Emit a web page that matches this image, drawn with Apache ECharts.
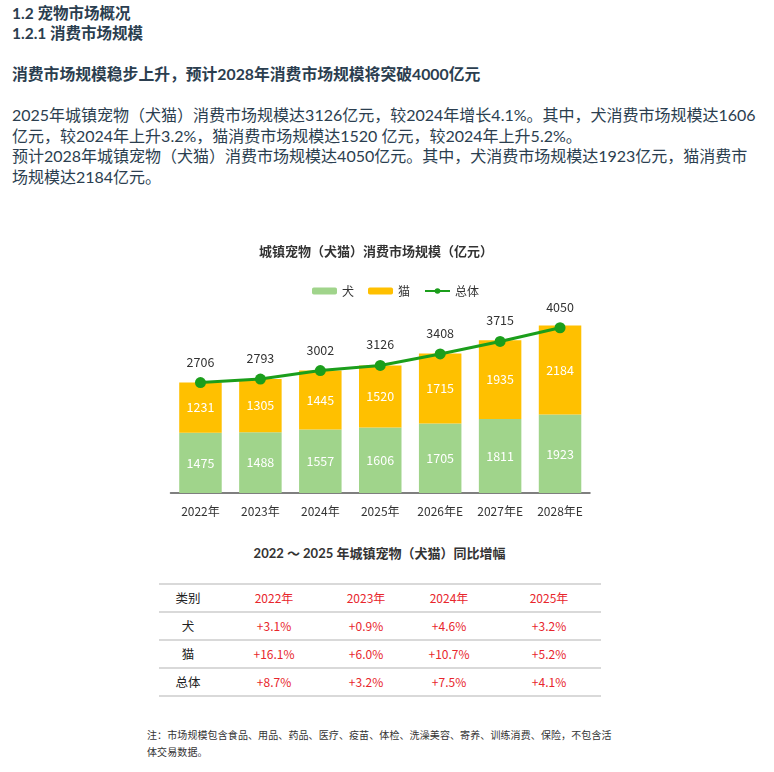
<!DOCTYPE html>
<html>
<head>
<meta charset="utf-8">
<script src="https://cdn.jsdelivr.net/npm/echarts/dist/echarts.min.js"></script>
<style>
    body {
        margin: 0;
        width: 774px;
        height: 772px;
        position: relative;
        overflow: hidden;
        background: #fff;
        font-family: Lato, 'Noto Sans CJK SC', sans-serif;
    }
    .txt {
        position: absolute;
        left: 12px;
        white-space: nowrap;
        color: #2b3e4f;
    }
    .head { font-size: 15.5px; line-height: 20px; font-weight: bold; }
    .lead { font-size: 15.8px; line-height: 20px; font-weight: bold; top: 64px; }
    .para { font-size: 16px; line-height: 20.5px; top: 105px; }
    #container { position: absolute; left: 0; top: 230px; width: 774px; height: 300px; }
    .tbl-title {
        position: absolute; left: 0; width: 759px; top: 543px;
        text-align: center; font-size: 13px; line-height: 20px; font-weight: bold; color: #333;
    }
    #growthTable { position: absolute; left: 159px; top: 584px; width: 442px; height: 112px; }
    .rule { position: absolute; left: 0; width: 442px; height: 2px; background: #d9d9d9; }
    .cell {
        position: absolute; height: 28px; line-height: 28px; text-align: center;
        font-family: 'Noto Sans CJK SC', sans-serif; font-size: 12px;
    }
    .note {
        position: absolute; left: 147px; top: 727px; font-size: 10px; line-height: 16.5px;
        letter-spacing: 0.1px; color: #333; white-space: nowrap;
        font-family: 'Noto Sans CJK SC', sans-serif;
    }
</style>
</head>
<body>
<div class="txt head" style="top:3px">1.2 宠物市场概况</div>
<div class="txt head" style="top:23px">1.2.1 消费市场规模</div>
<div class="txt lead">消费市场规模稳步上升，预计2028年消费市场规模将突破4000亿元</div>
<div class="txt para">2025年城镇宠物（犬猫）消费市场规模达3126亿元，较2024年增长4.1%。其中，犬消费市场规模达1606<br>亿元，较2024年上升3.2%，猫消费市场规模达1520 亿元，较2024年上升5.2%。<br>预计2028年城镇宠物（犬猫）消费市场规模达4050亿元。其中，犬消费市场规模达1923亿元，猫消费市<br>场规模达2184亿元。</div>

<div id="container"></div>

<div class="tbl-title">2022 ～ 2025 年城镇宠物（犬猫）同比增幅</div>
<div id="growthTable"></div>

<div class="note">注：市场规模包含食品、用品、药品、医疗、疫苗、体检、洗澡美容、寄养、训练消费、保险，不包含活<br>体交易数据。</div>

<script>
    // 城镇宠物（犬猫）消费市场规模（亿元）
    var years = ['2022年', '2023年', '2024年', '2025年', '2026年E', '2027年E', '2028年E'];
    var dogValues = [1475, 1488, 1557, 1606, 1705, 1811, 1923];
    var catValues = [1231, 1305, 1445, 1520, 1715, 1935, 2184];
    var totalValues = [2706, 2793, 3002, 3126, 3408, 3715, 4050];

    // 同比增幅表
    var growthYears = ['2022年', '2023年', '2024年', '2025年'];
    var growthNames = ['犬', '猫', '总体'];
    var dogGrowth = ['+3.1%', '+0.9%', '+4.6%', '+3.2%'];
    var catGrowth = ['+16.1%', '+6.0%', '+10.7%', '+5.2%'];
    var totalGrowth = ['+8.7%', '+3.2%', '+7.5%', '+4.1%'];

    var labelFont = "'Noto Sans CJK SC', sans-serif";

    var chart = echarts.init(document.getElementById('container'));
    chart.setOption({
        animation: false,
        textStyle: {fontFamily: labelFont},
        title: {
            text: '城镇宠物（犬猫）消费市场规模（亿元）',
            left: 371,
            top: 10,
            textAlign: 'center',
            textStyle: {fontSize: 13, fontWeight: 'bold', color: '#333', fontFamily: labelFont}
        },
        legend: {
            data: ['犬', '猫', '总体'],
            left: 307,
            top: 50,
            itemWidth: 25,
            itemHeight: 7,
            itemGap: 14,
            textStyle: {fontSize: 12, color: '#333', fontFamily: labelFont}
        },
        grid: {left: 170.5, right: 184, top: 79.4, bottom: 37},
        xAxis: {
            type: 'category',
            data: years,
            axisLine: {lineStyle: {color: '#555', width: 1.5}},
            axisTick: {show: false},
            axisLabel: {color: '#333', fontSize: 12, margin: 12}
        },
        yAxis: {
            type: 'value',
            min: 0,
            max: 4500,
            show: false,
            splitLine: {show: false}
        },
        series: [
            {
                name: '犬',
                type: 'bar',
                stack: 'total',
                barWidth: 42.5,
                itemStyle: {color: '#a0d48b'},
                label: {show: true, position: 'inside', color: '#fff', fontSize: 12.5},
                data: dogValues
            },
            {
                name: '猫',
                type: 'bar',
                stack: 'total',
                barWidth: 42.5,
                itemStyle: {color: '#ffc000'},
                label: {show: true, position: 'inside', color: '#fff', fontSize: 12.5},
                data: catValues
            },
            {
                name: '总体',
                type: 'line',
                symbol: 'circle',
                symbolSize: 11,
                lineStyle: {color: '#1b9e1b', width: 3},
                itemStyle: {color: '#1b9e1b'},
                label: {show: true, position: 'top', distance: 9, color: '#333', fontSize: 12.5},
                data: totalValues,
                z: 5
            }
        ]
    });

    // build the growth table from the arrays
    var colWidths = [58, 114, 70, 96, 104];
    var rows = [['类别'].concat(growthYears)];
    [dogGrowth, catGrowth, totalGrowth].forEach(function (vals, i) {
        rows.push([growthNames[i]].concat(vals));
    });
    var table = document.getElementById('growthTable');
    var html = '';
    for (var r = 0; r <= rows.length; r++) {
        html += '<div class="rule" style="top:' + (28 * r - 1) + 'px"></div>';
    }
    rows.forEach(function (row, r) {
        var x = 0;
        row.forEach(function (val, c) {
            var color = c === 0 ? '#222' : '#e8262c';
            var size = c === 0 ? 'font-size:12.5px;' : '';
            html += '<div class="cell" style="left:' + x + 'px;width:' + colWidths[c] + 'px;top:' + (28 * r) + 'px;color:' + color + ';' + size + '">' + val + '</div>';
            x += colWidths[c];
        });
    });
    table.innerHTML = html;
</script>
</body>
</html>
